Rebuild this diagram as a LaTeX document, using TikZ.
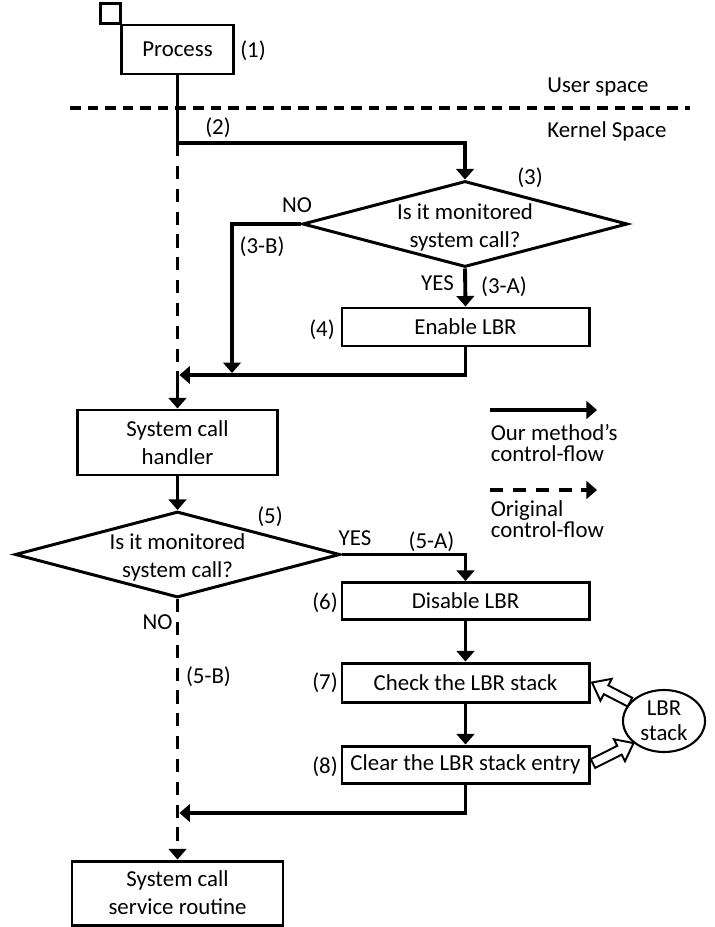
\documentclass[tikz,border=0pt]{standalone}
\usepackage{fontspec}
\setmainfont{Carlito}
\usetikzlibrary{arrows.meta,positioning,calc,shapes.geometric}

\tikzset{
  stepbox/.style={draw, line width=1.7pt, rectangle, align=center, inner sep=0pt},
  decision/.style={draw, line width=1.7pt, diamond, aspect=3.8, inner sep=0pt,
    minimum width=6.5cm, minimum height=1.72cm},
  flow/.style={line width=2.2pt, ->},
  orig/.style={line width=2.2pt, dash pattern=on 7.5pt off 5.5pt},
  tag/.style={inner sep=0pt},
  blockline/.style={line width=1.1pt, line join=miter}
}

% hollow block arrow between two points
\newcommand{\blockarrow}[2]{%
  \draw[blockline] let \p1=(#1), \p2=(#2),
      \n1={atan2(\y2-\y1,\x2-\x1)}, \n2={veclen(\x2-\x1,\y2-\y1)} in
    [shift={(\p1)}, rotate=\n1]
    (0pt,-2.8pt) -- (\n2-9pt,-2.8pt) -- (\n2-9pt,-7pt) -- (\n2+0pt,0pt)
    -- (\n2-9pt,7pt) -- (\n2-9pt,2.8pt) -- (0pt,2.8pt) -- cycle;}

\begin{document}
\begin{tikzpicture}[>={Triangle[width=10pt,length=6pt]},
  font=\fontsize{13}{16}\selectfont]
  \useasboundingbox (0,0) rectangle (14.28,-18.54);

  % ---- user space ----
  \node[stepbox, minimum width=2.24cm, minimum height=0.98cm] (proc) at (3.55,-0.99) {Process};
  \draw[line width=1.7pt] ($(proc.north west)+(-0.4,0.4)$) rectangle (proc.north west);
  \node[tag] (l1) at (5.06,-1.02) {(1)};

  % user / kernel boundary
  \draw[line width=2pt, dash pattern=on 6pt off 4pt] (1.40,-2.16) -- (13.80,-2.16);
  \node[tag, anchor=west] (user) at (10.94,-1.74) {User space};
  \node[tag, anchor=west] (kernel) at (10.94,-2.62) {Kernel Space};

  % ---- entry check ----
  \coordinate (c2) at (3.55,-2.86);
  \node[decision] (d3) at (9.30,-4.48) {};
  \node[align=center] (d3txt) at ($(d3)+(0,-0.06)$) {Is it monitored\\system call?};
  \node[stepbox, minimum width=4.94cm, minimum height=0.76cm] (enl) at (9.31,-6.54) {Enable LBR};
  \coordinate (j1) at (3.55,-7.50);
  \coordinate (nob) at (4.64,-7.50);

  \draw[flow] (proc.south) -- (c2) -| (d3.north);
  \draw[orig] (c2) -- (j1);
  \draw[flow] (d3.south) -- (enl.north);
  \draw[flow, shorten >=1.1pt] (d3.west) -| (nob);
  \draw[flow, shorten >=1.1pt] (enl.south) |- (j1);

  \node[tag] (l2) at (4.36,-2.56) {(2)};
  \node[tag] (l3) at (10.60,-3.56) {(3)};
  \node[tag] (no3) at (5.94,-4.10) {NO};
  \node[tag] (l3b) at (5.24,-4.94) {(3-B)};
  \node[tag] (yes3) at (8.75,-5.66) {YES};
  \node[tag] (l3a) at (10.08,-5.74) {(3-A)};
  \node[tag] (l4) at (6.44,-6.60) {(4)};

  % ---- exit check ----
  \node[stepbox, minimum width=4.0cm, minimum height=1.30cm] (hdl) at (3.55,-8.85) {System call\\handler};
  \node[decision] (d5) at (3.55,-11.09) {};
  \node[align=center] (d5txt) at ($(d5)+(0,-0.06)$) {Is it monitored\\system call?};
  \node[stepbox, minimum width=4.94cm, minimum height=0.74cm] (dis) at (9.31,-12.02) {Disable LBR};
  \node[stepbox, minimum width=4.94cm, minimum height=0.78cm] (chk) at (9.31,-13.65) {Check the LBR stack};
  \node[stepbox, minimum width=4.94cm, minimum height=0.74cm] (clr) at (9.31,-15.29) {Clear the LBR stack entry};
  \coordinate (j2) at (3.55,-16.26);
  \node[stepbox, minimum width=4.22cm, minimum height=1.28cm] (svc) at (3.55,-17.86) {System call\\service routine};
  \node[draw, ellipse, line width=1.2pt, minimum width=1.64cm, minimum height=1.24cm,
    inner sep=0pt, align=center, font=\fontsize{13}{14}\selectfont] (lbr) at (13.28,-14.42) {LBR\\stack};

  \draw[flow] (j1) -- (hdl.north);
  \draw[flow] (hdl.south) -- (d5.north);
  \draw[flow] (d5.east) -| (dis.north);
  \draw[flow] (dis.south) -- (chk.north);
  \draw[flow] (chk.south) -- (clr.north);
  \draw[flow, shorten >=1.1pt] (clr.south) |- (j2);
  \draw[orig, ->] (d5.south) -- (svc.north);

  \blockarrow{lbr.151}{$(chk.east)+(0.03,0)$}
  \blockarrow{$(clr.east)+(0.05,0.02)$}{lbr.216}

  \node[tag] (l5) at (5.40,-10.34) {(5)};
  \node[tag] (yes5) at (7.10,-10.76) {YES};
  \node[tag] (l5a) at (8.63,-10.84) {(5-A)};
  \node[tag] (no5) at (3.15,-12.44) {NO};
  \node[tag] (l5b) at (4.17,-13.54) {(5-B)};
  \node[tag] (l6) at (6.50,-12.06) {(6)};
  \node[tag] (l7) at (6.50,-13.66) {(7)};
  \node[tag] (l8) at (6.50,-15.34) {(8)};

  % ---- legend ----
  \coordinate (lg1s) at (9.80,-8.20);
  \coordinate (lg1e) at (11.94,-8.20);
  \coordinate (lg2s) at (9.80,-9.80);
  \coordinate (lg2e) at (11.94,-9.80);
  \draw[flow] (lg1s) -- (lg1e);
  \draw[orig, ->] (lg2s) -- (lg2e);
  \node[tag, anchor=west, align=left, font=\fontsize{13}{12}\selectfont] (lg1) at (9.81,-8.86) {Our method's\\control-flow};
  \node[tag, anchor=west, align=left, font=\fontsize{13}{12}\selectfont] (lg2) at (9.81,-10.38) {Original\\control-flow};

\end{tikzpicture}
\end{document}
